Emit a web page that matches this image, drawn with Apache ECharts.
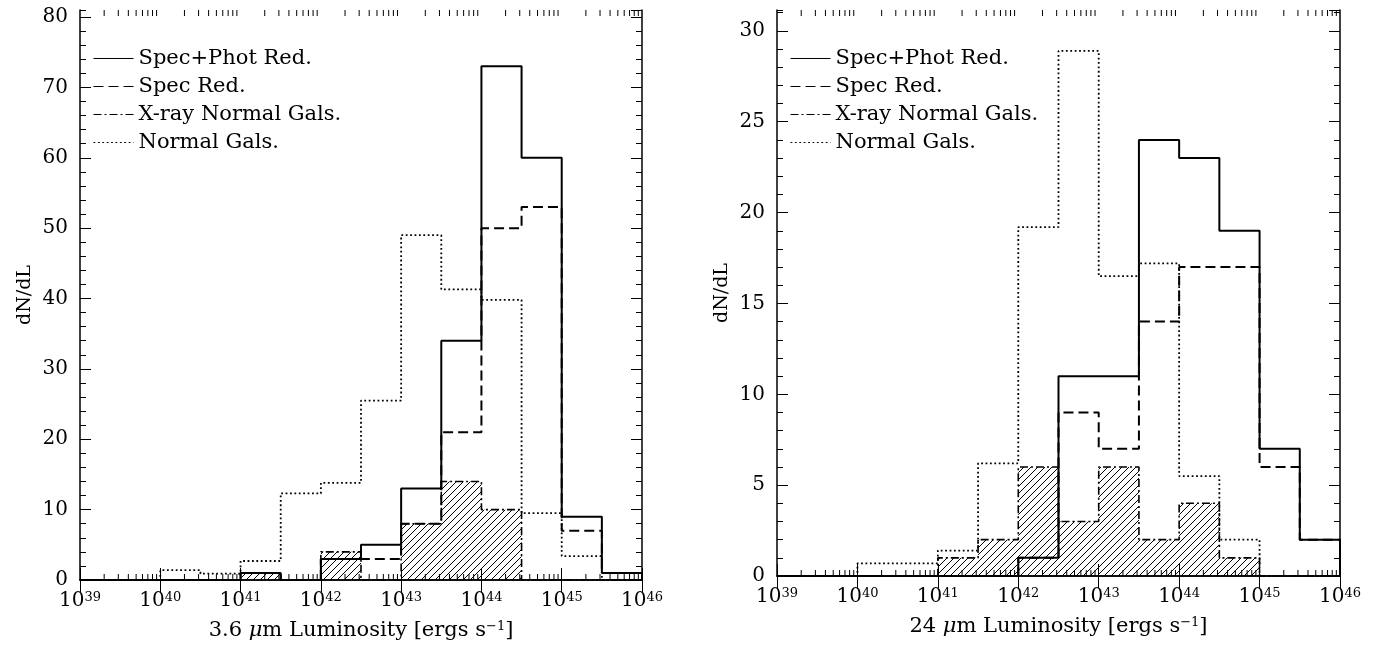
<!DOCTYPE html>
<html>
<head>
<meta charset="utf-8">
<script src="https://cdn.jsdelivr.net/npm/echarts@6/dist/echarts.min.js"></script>
<style>
  html, body { margin: 0; background: #fff; }
  #chart { width: 1375px; height: 647px; }
</style>
</head>
<body>
<div id="chart"></div>
<script>
// bin left edges in log10(L), half-decade bins
const binEdges = [39, 39.5, 40, 40.5, 41, 41.5, 42, 42.5, 43, 43.5, 44, 44.5, 45, 45.5]
const binEnd = 46

// 3.6 micron panel
const specPhot36 = [0, 0, 0, 0, 1, 0, 3, 5, 13, 34, 73, 60, 9, 1]
const spec36     = [0, 0, 0, 0, 1, 0, 3, 3, 8, 21, 50, 53, 7, 1]
const xray36     = [0, 0, 0, 0, 1, 0, 4, 0, 8, 14, 10, 0, 0, 0]
const normal36   = [0, 0, 1.4, 0.9, 2.7, 12.3, 13.8, 25.5, 49, 41.3, 39.8, 9.5, 3.4, 0]

// 24 micron panel
const specPhot24 = [0, 0, 0, 0, 0, 0, 1, 11, 11, 24, 23, 19, 7, 2]
const spec24     = [0, 0, 0, 0, 0, 0, 1, 9, 7, 14, 17, 17, 6, 2]
const xray24     = [0, 0, 0, 0, 1, 2, 6, 3, 6, 2, 4, 1, 0, 0]
const normal24   = [0, 0, 0.7, 0.7, 1.4, 6.2, 19.2, 28.9, 16.5, 17.2, 5.5, 2.0, 0, 0]

const xTicks = [39, 40, 41, 42, 43, 44, 45, 46]
const names = ['Spec+Phot Red.', 'Spec Red.', 'X-ray Normal Gals.', 'Normal Gals.']

const FONT = 'DejaVu Serif'
const BLACK = '#000'

// log minor tick positions (2..9 x 10^n)
const minorTickPos = []
xTicks.slice(0, -1).forEach(d => {
  for (let k = 2; k <= 9; k++) minorTickPos.push([d + Math.log10(k), 0])
})

function stepData(vals) {
  return binEdges.map((e, i) => [e, vals[i]]).concat([[binEnd, 0]])
}

function hatchPattern() {
  const s = 7
  const c = document.createElement('canvas')
  c.width = s; c.height = s
  const ctx = c.getContext('2d')
  ctx.strokeStyle = BLACK
  ctx.lineWidth = 1
  ctx.beginPath()
  ctx.moveTo(0, s); ctx.lineTo(s, 0)
  ctx.moveTo(-1, 1); ctx.lineTo(1, -1)
  ctx.moveTo(s - 1, s + 1); ctx.lineTo(s + 1, s - 1)
  ctx.stroke()
  return c
}
const hatch = hatchPattern()

function minorTickItem(params, api) {
  const cs = params.coordSys
  const x = api.coord([api.value(0), 0])[0]
  const yb = cs.y + cs.height
  const yt = cs.y
  const style = { stroke: BLACK, lineWidth: 1 }
  return {
    type: 'group',
    children: [
      { type: 'line', shape: { x1: x, y1: yb, x2: x, y2: yb - 6 }, style },
      { type: 'line', shape: { x1: x, y1: yt, x2: x, y2: yt + 6 }, style },
    ],
  }
}

function xAxes(gridIndex, title) {
  const common = {
    type: 'value', gridIndex, min: 39, max: 46, interval: 1,
    splitLine: { show: false },
    axisLine: { lineStyle: { color: BLACK, width: 1.5 } },
    axisTick: { inside: true, length: 12, lineStyle: { color: BLACK, width: 1 } },
  }
  return [
    {
      ...common, position: 'bottom',
      name: title, nameLocation: 'middle', nameGap: 40,
      nameTextStyle: {
        color: BLACK, fontFamily: FONT, fontSize: 21,
        rich: {
          i: { fontFamily: FONT, fontSize: 21, fontStyle: 'italic', color: BLACK },
          s: { fontFamily: FONT, fontSize: 13, color: BLACK, verticalAlign: 'top', lineHeight: 14 },
        },
      },
      axisLabel: {
        margin: 11,
        formatter: v => '{b|10}{s|' + v + '}',
        rich: {
          b: { fontFamily: FONT, fontSize: 20, color: BLACK, lineHeight: 22, verticalAlign: 'top' },
          s: { fontFamily: FONT, fontSize: 13, color: BLACK, lineHeight: 14, verticalAlign: 'top' },
        },
      },
    },
    { ...common, position: 'top', axisLabel: { show: false } },
  ]
}

function yAxes(gridIndex, max, interval, minor) {
  const base = {
    type: 'value', gridIndex, min: 0, max,
    splitLine: { show: false },
  }
  const major = {
    ...base, interval,
    axisLine: { show: true, lineStyle: { color: BLACK, width: 1.5 } },
    axisTick: { inside: true, length: 11, lineStyle: { color: BLACK, width: 1 } },
  }
  const minorAx = {
    ...base, interval: minor,
    axisLine: { show: false },
    axisLabel: { show: false },
    axisTick: { inside: true, length: 6, lineStyle: { color: BLACK, width: 1 } },
  }
  return [
    {
      ...major, position: 'left',
      name: 'dN/dL', nameLocation: 'middle', nameGap: 45,
      nameTextStyle: { color: BLACK, fontFamily: FONT, fontSize: 19 },
      axisLabel: { color: BLACK, fontFamily: FONT, fontSize: 20, margin: 12, showMaxLabel: max % interval === 0 },
    },
    { ...major, position: 'right', axisLabel: { show: false } },
    { ...minorAx, position: 'left' },
    { ...minorAx, position: 'right' },
  ]
}

function panelSeries(i, specPhot, spec, xray, normal) {
  const xAxisIndex = i * 2
  const yAxisIndex = i * 4
  const common = { type: 'line', step: 'end', symbol: 'none', xAxisIndex, yAxisIndex, silent: true }
  return [
    {
      ...common, name: names[2], data: stepData(xray), z: 2,
      lineStyle: { color: BLACK, width: 1.6, type: [8, 3, 2, 3] },
      itemStyle: { color: BLACK },
      areaStyle: { color: { image: hatch, repeat: 'repeat' }, opacity: 1 },
    },
    {
      ...common, name: names[3], data: stepData(normal), z: 3,
      lineStyle: { color: BLACK, width: 1.8, type: [1.8, 2.6] },
      itemStyle: { color: BLACK },
    },
    {
      ...common, name: names[1], data: stepData(spec), z: 4,
      lineStyle: { color: BLACK, width: 2, type: [10, 5] },
      itemStyle: { color: BLACK },
    },
    {
      ...common, name: names[0], data: stepData(specPhot), z: 5,
      lineStyle: { color: BLACK, width: 2 },
      itemStyle: { color: BLACK },
    },
    {
      type: 'custom', xAxisIndex, yAxisIndex, silent: true, z: 6,
      renderItem: minorTickItem, data: minorTickPos,
    },
  ]
}

function legendAt(left) {
  return {
    data: names, orient: 'vertical', left, top: 43,
    itemWidth: 40, itemHeight: 14, itemGap: 7,
    selectedMode: false,
    textStyle: { color: BLACK, fontFamily: FONT, fontSize: 21 },
    lineStyle: { width: 1 },
    itemStyle: { opacity: 0 },
  }
}

const chart = echarts.init(document.getElementById('chart'), null, { renderer: 'canvas' })
chart.setOption({
  animation: false,
  backgroundColor: '#fff',
  grid: [
    { left: 80, top: 10, width: 562, height: 570 },
    { left: 777, top: 10, width: 563, height: 566 },
  ],
  legend: [legendAt(88), legendAt(785)],
  xAxis: [
    ...xAxes(0, '3.6 {i|μ}m Luminosity [ergs s{s|−1}]'),
    ...xAxes(1, '24 {i|μ}m Luminosity [ergs s{s|−1}]'),
  ],
  yAxis: [
    ...yAxes(0, 81, 10, 2),
    ...yAxes(1, 31.15, 5, 1),
  ],
  series: [
    ...panelSeries(0, specPhot36, spec36, xray36, normal36),
    ...panelSeries(1, specPhot24, spec24, xray24, normal24),
  ],
})
</script>
</body>
</html>
